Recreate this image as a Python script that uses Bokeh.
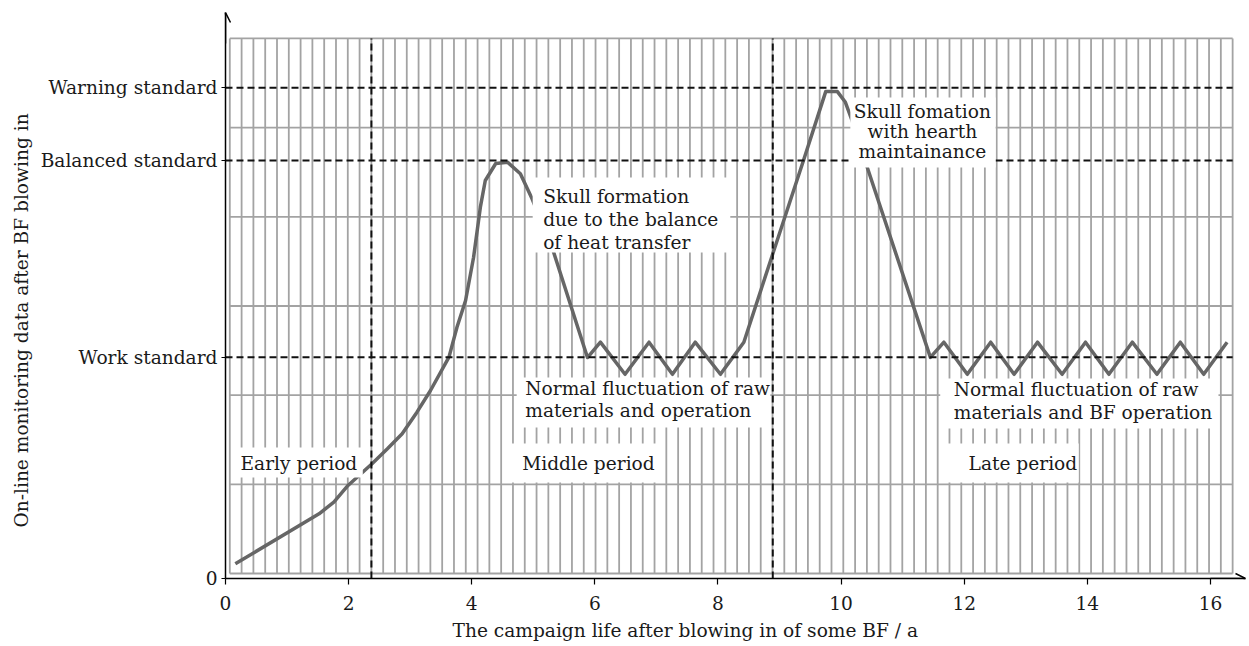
import numpy as np
from bokeh.plotting import figure
from bokeh.models import Range1d, FixedTicker, Label, BoxAnnotation, Arrow, OpenHead, Title
from bokeh.embed import file_html
from bokeh.resources import INLINE

# ---------------- data ----------------
life_years = [0.16, 1.52, 1.76, 1.99, 2.38, 2.63, 2.87, 3.11, 3.33, 3.63, 3.76, 3.90, 4.03, 4.14,
              4.22, 4.39, 4.58, 4.79, 4.98, 5.33, 5.88,
              6.09, 6.49, 6.88, 7.26, 7.63, 8.04, 8.42, 8.88, 9.39, 9.75, 9.94, 10.07, 10.18,
              10.42, 11.45,
              11.67, 12.05, 12.43, 12.81, 13.19, 13.59, 13.97, 14.35, 14.73, 15.13, 15.51,
              15.89, 16.27]
monitoring = [0.165, 0.726, 0.856, 1.043, 1.286, 1.454, 1.623, 1.865, 2.108, 2.482, 2.818, 3.118,
              3.603, 4.164, 4.463, 4.654, 4.669, 4.539, 4.258, 3.659, 2.478,
              2.65, 2.29, 2.65, 2.29, 2.65, 2.29, 2.65, 3.62, 4.69, 5.46, 5.46, 5.34, 5.13,
              4.62, 2.48,
              2.65, 2.29, 2.65, 2.29, 2.65, 2.29, 2.65, 2.29, 2.65, 2.29, 2.65, 2.29, 2.65]

standard_values = [2.482, 4.688, 5.503]
standard_labels = ["Work standard", "Balanced standard", "Warning standard"]
period_bounds = [2.37, 8.89]
x_ticks = [0, 2, 4, 6, 8, 10, 12, 14, 16]

x_title = "The campaign life after blowing in of some BF / a"
y_title = "On-line monitoring data after BF blowing in"

FONT = "DejaVu Serif"
FS = "18.6px"
TXT = "#1a1a1a"

# ---------------- figure ----------------
X_END = 16.569
Y_END = 6.347
p = figure(width=1249, height=646, x_range=Range1d(0, X_END), y_range=Range1d(0, Y_END),
           output_backend="svg", toolbar_location=None,
           min_border_left=225, min_border_right=4, min_border_top=12, min_border_bottom=68)
p.outline_line_color = None
p.xgrid.visible = False
p.ygrid.visible = False
p.background_fill_color = "white"
p.border_fill_color = "white"

# graph-paper background
g_left, g_right, g_bottom, g_top = 0.07, 16.36, 0.056, 6.056
vx = np.linspace(g_left, g_right, 86)
p.segment(x0=vx, y0=g_bottom, x1=vx, y1=g_top, line_color="#a3a3a3", line_width=1.8)
hy = np.linspace(g_bottom, g_top, 7)
p.segment(x0=g_left, y0=hy, x1=g_right, y1=hy, line_color="#a3a3a3", line_width=1.8)

# curve
p.line(life_years, monitoring, line_color="#666666", line_width=3.5, line_join="round")

# dashed standards and period boundaries
p.segment(x0=0, y0=standard_values, x1=g_right, y1=standard_values,
          line_color="#111111", line_width=2, line_dash="7 4")
p.segment(x0=period_bounds, y0=0, x1=period_bounds, y1=g_top,
          line_color="#111111", line_width=2, line_dash="7 4")

# axes
for ax in (p.xaxis, p.yaxis):
    ax.axis_line_color = "black"
    ax.axis_line_width = 1.5
    ax.major_tick_line_color = "black"
    ax.major_tick_line_width = 1.2
    ax.minor_tick_line_color = None
    ax.major_tick_in = 0
    ax.major_label_text_font = FONT
    ax.major_label_text_font_size = FS
    ax.major_label_text_color = TXT

p.xaxis.ticker = FixedTicker(ticks=x_ticks)
p.xaxis.major_tick_out = 6
p.xaxis.major_label_standoff = 11

p.yaxis.ticker = FixedTicker(ticks=[0] + standard_values)
overrides = {0: "0"}
for v, t in zip(standard_values, standard_labels):
    overrides[v] = t
p.yaxis.major_label_overrides = overrides
p.yaxis.major_tick_out = 4
p.yaxis.major_label_standoff = 4

# axis titles as side panels
p.add_layout(Title(text=x_title, align="left", offset=227, standoff=10, text_font=FONT,
                   text_font_size=FS, text_font_style="normal", text_color=TXT), "below")
p.add_layout(Title(text=y_title, align="left", offset=51, standoff=12, text_font=FONT,
                   text_font_size=FS, text_font_style="normal", text_color=TXT), "left")

# arrow heads on the axes
p.add_layout(Arrow(end=OpenHead(size=10, line_width=1.5, line_color="black"),
                   x_start=0, y_start=6.0, x_end=0, y_end=Y_END,
                   line_width=1.5, line_color="black"))
p.add_layout(Arrow(end=OpenHead(size=10, line_width=1.5, line_color="black"),
                   x_start=16.0, y_start=0, x_end=X_END, y_end=0,
                   line_width=1.5, line_color="black"))

# white boxes behind annotations
boxes = [
    (0.11, 2.23, 1.133, 1.469),
    (4.63, 7.02, 1.077, 1.514),
    (11.73, 13.86, 1.077, 1.514),
    (4.73, 8.85, 1.693, 2.254),
    (11.61, 16.13, 1.682, 2.243),
    (4.99, 8.20, 3.656, 4.497),
    (10.15, 12.51, 4.609, 5.394),
]
for l, r, b, t in boxes:
    p.add_layout(BoxAnnotation(left=l, right=r, bottom=b, top=t, fill_color="white",
                               fill_alpha=1.0, line_alpha=0))

notes = [
    ("Early period", 0.244, 1.29, "left", 1.1),
    ("Middle period", 4.82, 1.29, "left", 1.1),
    ("Late period", 12.07, 1.29, "left", 1.1),
    ("Normal fluctuation of raw\nmaterials and operation", 4.87, 2.007, "left", 1.03),
    ("Normal fluctuation of raw\nmaterials and BF operation", 11.83, 1.987, "left", 1.09),
    ("Skull formation\ndue to the balance\nof heat transfer", 5.16, 4.026, "left", 1.09),
    ("Skull fomation\nwith hearth\nmaintainance", 11.32, 5.013, "center", 0.97),
]
for text, x, y, align, lh in notes:
    p.add_layout(Label(x=x, y=y, text=text, text_font=FONT, text_font_size=FS,
                       text_color=TXT, text_align=align, text_baseline="middle",
                       text_line_height=lh))

open("out.html", "w").write(file_html(p, INLINE))
